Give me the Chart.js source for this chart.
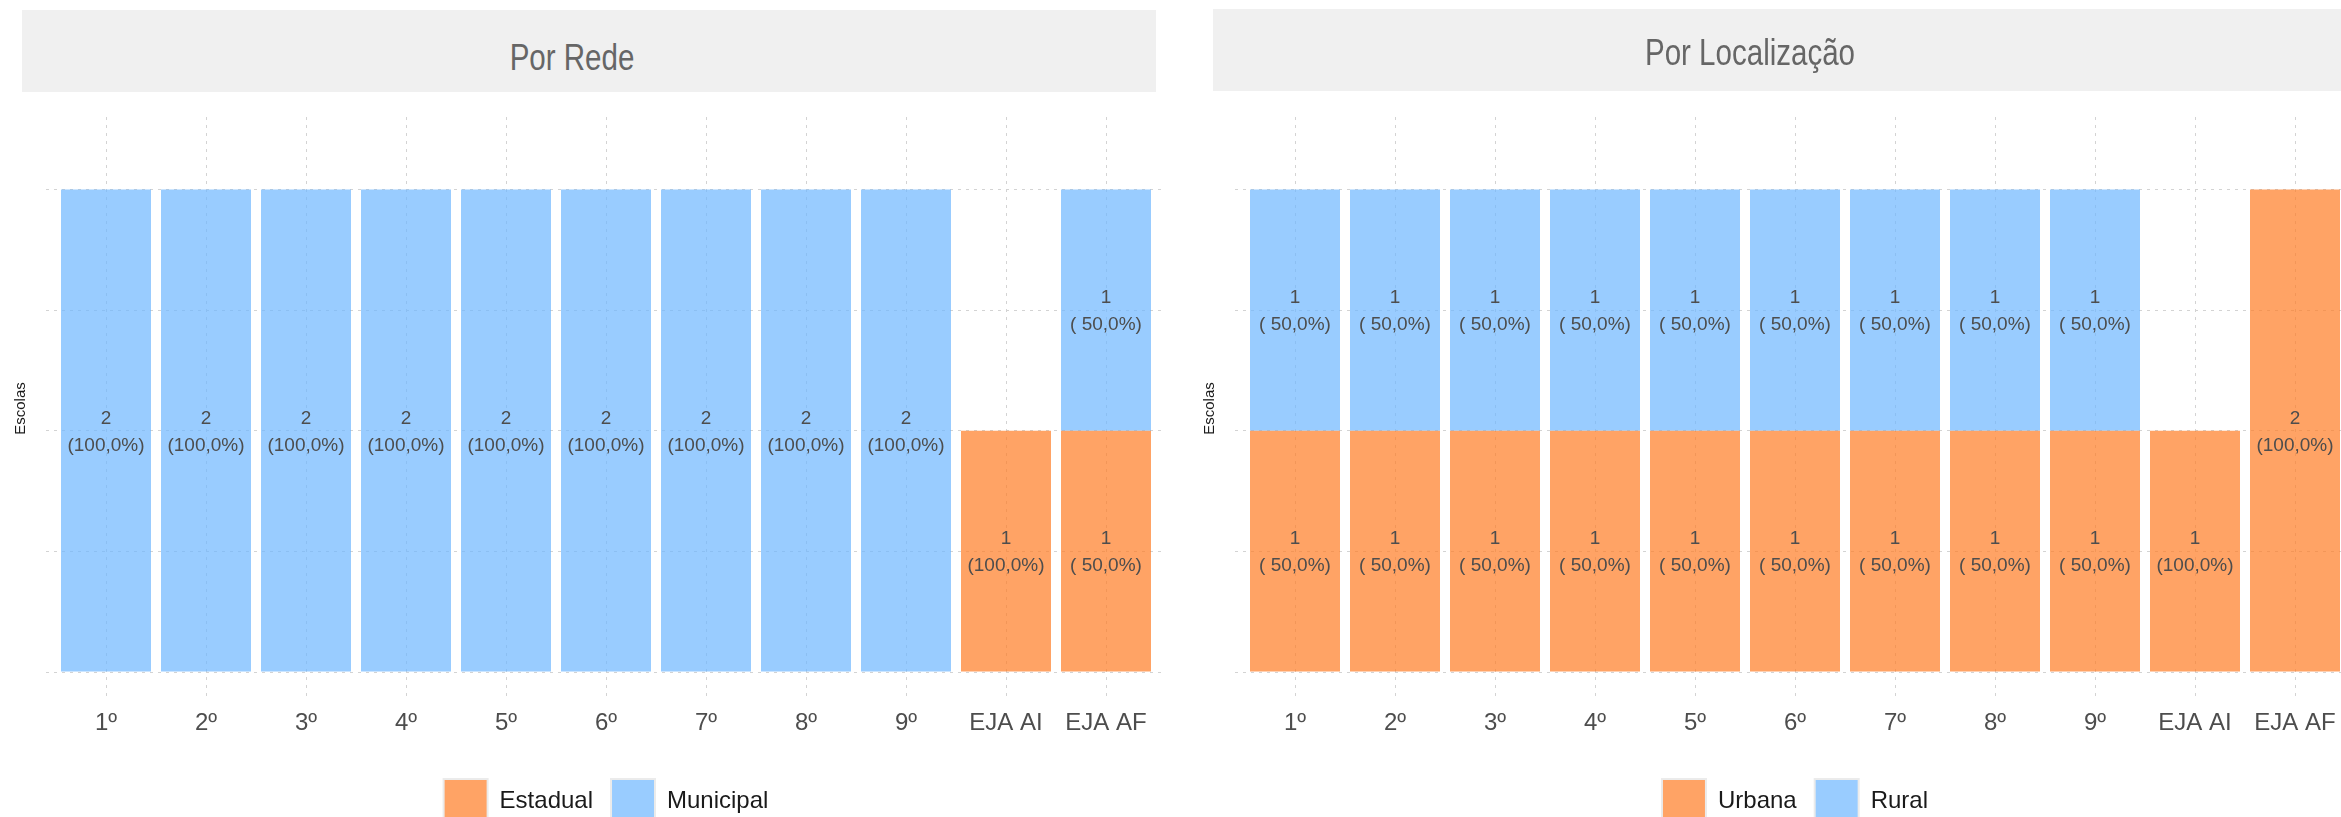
<!DOCTYPE html>
<html>
<head>
<meta charset="utf-8">
<script src="https://cdn.jsdelivr.net/npm/chart.js@4/dist/chart.umd.min.js"></script>
<style>
  body { margin: 0; width: 2341px; height: 817px; overflow: hidden; background: #ffffff; position: relative; }
  canvas { position: absolute; top: 0; }
  .strip { position: absolute; height: 82px; background: #F0F0F0; }
  .stripText { position: absolute; width: 600px; height: 40px; line-height: 40px; text-align: center;
               font-family: "Liberation Sans", Arial, sans-serif; transform: scaleX(0.82);
               font-size: 36px; color: #666666; }
</style>
</head>
<body>
<canvas id="redeChart" width="1170" height="833" style="left:0px"></canvas>
<canvas id="localChart" width="1190" height="833" style="left:1170px"></canvas>
<div class="strip" style="left:22px; top:10px; width:1134px"></div>
<div class="stripText" style="left:272px; top:38px">Por Rede</div>
<div class="strip" style="left:1213px; top:9px; width:1134px"></div>
<div class="stripText" style="left:1450px; top:33px">Por Localização</div>
<script>
// etapas de ensino (eixo x)
const categories = ['1º', '2º', '3º', '4º', '5º', '6º', '7º', '8º', '9º', 'EJA AI', 'EJA AF'];

// escolas por rede
const redeEstadual = [0, 0, 0, 0, 0, 0, 0, 0, 0, 1, 1];
const redeMunicipal = [2, 2, 2, 2, 2, 2, 2, 2, 2, 0, 1];

// escolas por localização
const locUrbana = [1, 1, 1, 1, 1, 1, 1, 1, 1, 1, 2];
const locRural = [1, 1, 1, 1, 1, 1, 1, 1, 1, 0, 0];

// gridlines shown on the y axis
const yTicks = [0, 0.5, 1, 1.5, 2];

const ORANGE = 'rgba(255, 124, 36, 0.7)';
const BLUE = 'rgba(109, 182, 255, 0.7)';
const FONT = '"Liberation Sans", Arial, Helvetica, sans-serif';

// turns a value list into {x, y} points on the numeric x axis
function toPoints(values)
{
    return values.map((v, i) => ({x: i, y: v}));
}

// formats "( 50,0%)" / "(100,0%)" like the original labels
function pctLabel(value, total)
{
    var pct = (value / total * 100).toFixed(1).replace('.', ',');
    return '(' + pct.padStart(5, ' ') + '%)';
}

// writes count and percentage in the middle of every stacked segment
const segmentLabels = {
    id: 'segmentLabels',
    afterDatasetsDraw(chart)
    {
        const ctx = chart.ctx;
        const datasets = chart.data.datasets;
        ctx.save();
        ctx.font = '19px ' + FONT;
        ctx.fillStyle = '#4D4D4D';
        ctx.textAlign = 'center';
        ctx.textBaseline = 'middle';
        datasets.forEach((ds, d) => {
            const meta = chart.getDatasetMeta(d);
            meta.data.forEach((bar, i) => {
                const value = ds.data[i].y;
                if (!value) return;
                var total = 0;
                datasets.forEach(other => { total += other.data[i].y; });
                const p = bar.getProps(['x', 'y', 'base'], true);
                const cy = (p.y + p.base) / 2;
                ctx.fillText(String(value), p.x, cy - 12);
                ctx.fillText(pctLabel(value, total), p.x, cy + 15);
            });
        });
        ctx.restore();
    }
};

function drawChart(canvasId, names, seriesA, seriesB, padLeft, padRight)
{
    var ctx = document.getElementById(canvasId).getContext('2d');
    return new Chart(ctx, {
        type: 'bar',
        data: {
            datasets: [
                { label: names[0], data: toPoints(seriesA), backgroundColor: ORANGE, borderWidth: 0 },
                { label: names[1], data: toPoints(seriesB), backgroundColor: BLUE, borderWidth: 0 }
            ]
        },
        options: {
            responsive: false,
            animation: false,
            barPercentage: 0.9,
            categoryPercentage: 1,
            layout: { padding: { top: 117, left: padLeft, right: padRight, bottom: 0 } },
            plugins: {
                tooltip: { enabled: false },
                legend: {
                    position: 'bottom',
                    fullSize: false,
                    labels: {
                        boxWidth: 44,
                        boxHeight: 44,
                        padding: 18,
                        color: '#1A1A1A',
                        font: { family: FONT, size: 24 },
                        generateLabels: function(chart) {
                            const items = Chart.defaults.plugins.legend.labels.generateLabels(chart);
                            items.forEach(item => { item.strokeStyle = '#EBEBEB'; item.lineWidth = 2; });
                            return items;
                        }
                    }
                }
            },
            scales: {
                x: {
                    type: 'linear',
                    stacked: true,
                    offset: false,
                    min: -0.6,
                    max: 10.6,
                    afterBuildTicks: function(scale) {
                        scale.ticks = categories.map((c, i) => ({ value: i }));
                    },
                    afterFit: function(scale) { scale.height = 61; },
                    ticks: {
                        autoSkip: false,
                        maxRotation: 0,
                        padding: 9,
                        color: '#4D4D4D',
                        font: { family: FONT, size: 24 },
                        callback: function(value, index) { return categories[index]; }
                    },
                    grid: { offset: false, color: '#D3D3D3', lineWidth: 1, drawTicks: false },
                    border: { display: false, dash: [3, 5] }
                },
                y: {
                    stacked: true,
                    min: -0.116,
                    max: 2.3,
                    afterBuildTicks: function(scale) {
                        scale.ticks = yTicks.map(v => ({ value: v }));
                    },
                    afterFit: function(scale) { scale.width = 46; },
                    ticks: { display: false },
                    grid: { color: '#D3D3D3', lineWidth: 1, drawTicks: false },
                    border: { display: false, dash: [3, 5] },
                    title: {
                        display: true,
                        text: 'Escolas',
                        color: '#1A1A1A',
                        font: { family: FONT, size: 15 },
                        padding: { top: 12, bottom: 0 }
                    }
                }
            }
        },
        plugins: [segmentLabels]
    });
}

drawChart('redeChart', ['Estadual', 'Municipal'], redeEstadual, redeMunicipal, 0, 4);
drawChart('localChart', ['Urbana', 'Rural'], locUrbana, locRural, 19, 5);
</script>
</body>
</html>
